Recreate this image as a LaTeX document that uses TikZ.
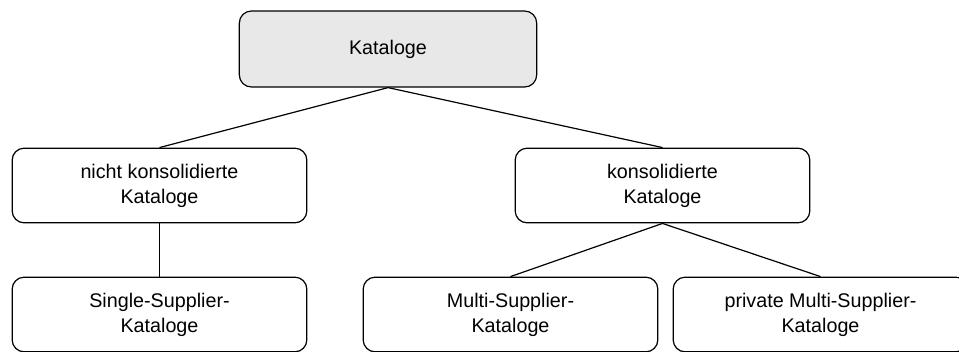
\documentclass[tikz,border=0pt]{standalone}
\usepackage{fontspec}
\setmainfont{Liberation Sans}
\definecolor{rootfill}{HTML}{E8E8E8}
\begin{document}
\begin{tikzpicture}[x=0.75pt,y=-0.75pt,
  catbox/.style={draw=black, line width=0.9pt, rounded corners=9pt,
    minimum width=221pt, minimum height=56pt, inner sep=0pt,
    align=center, font=\fontsize{14.8}{18.8}\selectfont},
  rootbox/.style={catbox, fill=rootfill, minimum width=223pt, minimum height=57pt},
  link/.style={draw=black, line width=0.9pt}]
  \clip (0,0) rectangle (959,351);
  \fill[white] (0,0) rectangle (959,351);

  \node[rootbox] (root) at (388,49) {Kataloge};

  \node[catbox] (nk) at (159.5,185.5) {nicht konsolidierte\\Kataloge};
  \node[catbox] (k)  at (662.5,185.5) {konsolidierte\\Kataloge};

  \node[catbox] (ss) at (159.5,314.5) {Single-Supplier-\\Kataloge};
  \node[catbox] (ms) at (510.5,314.5) {Multi-Supplier-\\Kataloge};
  \node[catbox] (pms) at (820.5,314.5) {private Multi-Supplier-\\Kataloge};

  \draw[link] (root.south) -- (nk.north);
  \draw[link] (root.south) -- (k.north);
  \draw[link] (nk.south) -- (ss.north);
  \draw[link] (k.south) -- (ms.north);
  \draw[link] (k.south) -- (pms.north);
\end{tikzpicture}
\end{document}
